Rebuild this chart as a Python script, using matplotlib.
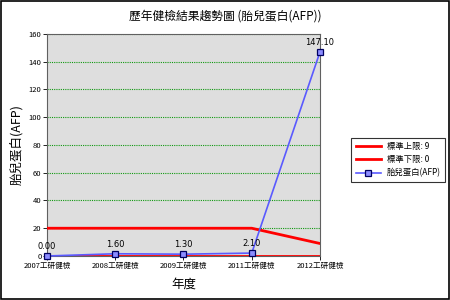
import matplotlib
matplotlib.use("Agg")
import matplotlib.pyplot as plt
from matplotlib.patches import Rectangle

plt.rcParams['font.family'] = ['Noto Sans CJK TC', 'DejaVu Sans']

categories = ["2007工研健檢", "2008工研健檢", "2009工研健檢", "2011工研健檢", "2012工研健檢"]
upper_limit = [20, 20, 20, 20, 9]
lower_limit = [0, 0, 0, 0, 0]
afp_values = [0.00, 1.60, 1.30, 2.10, 147.10]
afp_labels = ["0.00", "1.60", "1.30", "2.10", "147.10"]
y_ticks = [0, 20, 40, 60, 80, 100, 120, 140, 160]

fig = plt.figure(figsize=(4.5, 3), dpi=100)
fig.patch.set_facecolor('white')
fig.add_artist(Rectangle((0.002, 0.003), 0.996, 0.994, transform=fig.transFigure,
                         fill=False, edgecolor='black', linewidth=1.2))

ax = fig.add_axes([0.1044, 0.1467, 0.6067, 0.74])
ax.set_facecolor('#dedede')
x = list(range(len(categories)))

ax.yaxis.grid(True, color='#119911', linestyle=(0, (1, 1)), linewidth=0.8)
ax.set_axisbelow(True)

ax.plot(x, upper_limit, color='#ff0000', linewidth=2, label='標準上限: 9', zorder=3)
ax.plot(x, lower_limit, color='#ff0000', linewidth=2, label='標準下限: 0', zorder=3)
ax.plot(x, afp_values, color='#5a5aff', linewidth=1.2, marker='s', markersize=5,
        markerfacecolor='#8c8cff', markeredgecolor='#000060', markeredgewidth=0.9,
        label='胎兒蛋白(AFP)', zorder=4, clip_on=False)

for xi, v, lab in zip(x, afp_values, afp_labels):
    ax.annotate(lab, (xi, v), xytext=(0, 3.5), textcoords='offset points',
                ha='center', va='bottom', fontsize=6, color='black', zorder=5,
                family=['DejaVu Sans'])

ax.set_xlim(0, len(categories) - 1)
ax.set_ylim(0, 160)
ax.set_yticks(y_ticks)
ax.set_yticklabels([str(t) for t in y_ticks], fontsize=5.5)
ax.set_xticks(x)
ax.set_xticklabels(categories, fontsize=5.5)
ax.tick_params(axis='both', direction='out', length=3, width=0.6, pad=1)

for s in ax.spines.values():
    s.set_color('#606060')
    s.set_linewidth(0.8)

ax.set_xlabel('年度', fontsize=9, labelpad=6)
ax.set_ylabel('胎兒蛋白(AFP)', fontsize=9, labelpad=4)
fig.text(0.5, 0.945, '歷年健檢結果趨勢圖 (胎兒蛋白(AFP))', ha='center', va='center', fontsize=8.5)

leg = ax.legend(loc='upper left', bbox_to_anchor=(1.1, 0.55), fontsize=6,
                frameon=True, fancybox=False, edgecolor='black', borderpad=0.5,
                handlelength=3, labelspacing=0.5)
leg.get_frame().set_linewidth(0.8)

fig.savefig('out.png', dpi=100)
